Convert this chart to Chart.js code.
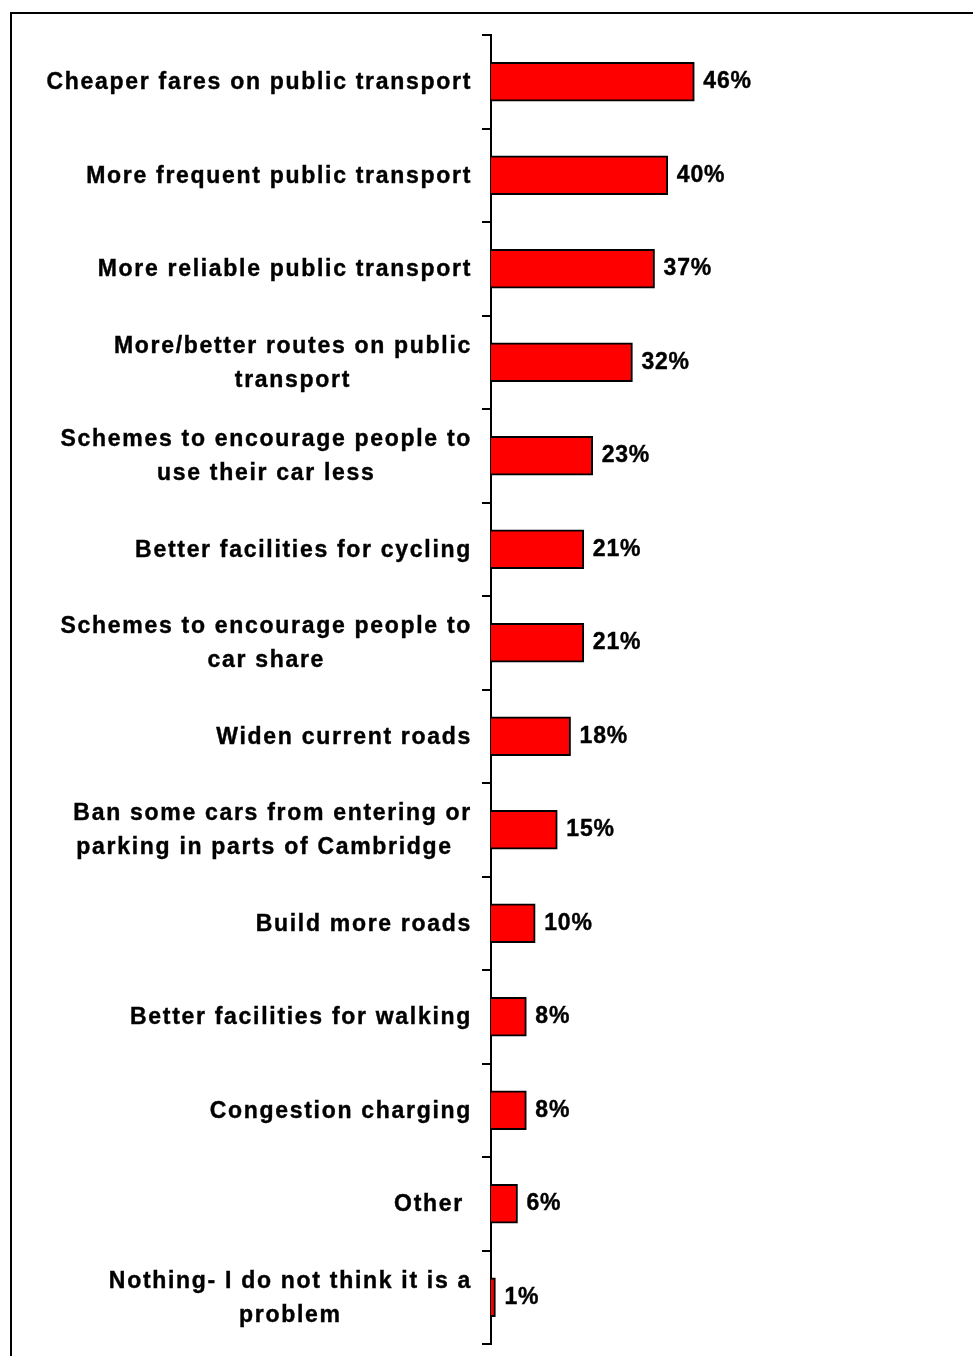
<!DOCTYPE html>
<html>
<head>
<meta charset="utf-8">
<script src="https://cdn.jsdelivr.net/npm/chart.js@4/dist/chart.umd.min.js"></script>
<style>
html,body{margin:0;padding:0;background:#fff;overflow:hidden;}
#frame{position:absolute;left:10px;top:12px;width:1000px;height:1400px;border:2px solid #000;box-sizing:border-box;}
#wrap{position:absolute;left:0;top:0;width:973px;height:1356px;}
</style>
</head>
<body>
<div id="frame"></div>
<div id="wrap"><canvas id="chart"></canvas></div>
<script>
// Data
const categories=[
  ["Cheaper fares on public transport"],
  ["More frequent public transport"],
  ["More reliable public transport"],
  ["More/better routes on public","transport"],
  ["Schemes to encourage people to","use their car less"],
  ["Better facilities for cycling"],
  ["Schemes to encourage people to","car share"],
  ["Widen current roads"],
  ["Ban some cars from entering or","parking in parts of Cambridge  "],
  ["Build more roads"],
  ["Better facilities for walking"],
  ["Congestion charging"],
  ["Other "],
  ["Nothing- I do not think it is a","problem"]
];
const values=[46,40,37,32,23,21,21,18,15,10,8,8,6,1];
const valueLabels=values.map(v=>v+"%");

const FONT='bold 23px "Liberation Sans", Arial, sans-serif';

// draw text a little heavier, like the original renderer
function heavyText(ctx,t,x,y){
  ctx.fillText(t,x,y);
  ctx.strokeText(t,x,y);
}

// Labels (category text + value text)
const labelPlugin={
  id:"labels",
  afterDraw(chart){
    const ctx=chart.ctx,y=chart.scales.y;
    const right=chart.chartArea.left-19;
    ctx.save();
    ctx.font=FONT;ctx.fillStyle="#000";ctx.strokeStyle="#000";ctx.lineWidth=0.4;
    ctx.textBaseline="middle";ctx.textAlign="center";
    ctx.letterSpacing="1.7px";
    categories.forEach((lines,i)=>{
      const cy=y.getPixelForValue(i);
      const w=Math.max(...lines.map(l=>ctx.measureText(l).width));
      lines.forEach((l,j)=>heavyText(ctx,l,right-w/2,cy+1+(j-(lines.length-1)/2)*34));
    });
    ctx.textAlign="left";
    ctx.letterSpacing="0.8px";
    chart.getDatasetMeta(0).data.forEach((bar,i)=>{
      heavyText(ctx,valueLabels[i],bar.x+9,bar.y);
    });
    ctx.restore();
  }
};

new Chart(document.getElementById("chart"),{
  type:"bar",
  data:{
    labels:categories.map(l=>l.join(" ")),
    datasets:[{
      data:values,
      backgroundColor:"#FF0000",
      borderColor:"#000",
      borderWidth:2,
      barThickness:39
    }]
  },
  options:{
    indexAxis:"y",
    responsive:true,
    maintainAspectRatio:false,
    animation:false,
    devicePixelRatio:1,
    layout:{padding:{left:482,right:40,top:35,bottom:12}},
    plugins:{legend:{display:false},tooltip:{enabled:false}},
    scales:{
      x:{display:false,min:0,max:100},
      y:{
        ticks:{display:false},
        grid:{drawOnChartArea:false,drawTicks:true,tickLength:9,color:"#000",lineWidth:2,offset:true},
        border:{display:true,color:"#000",width:2}
      }
    }
  },
  plugins:[labelPlugin]
});
</script>
</body>
</html>
